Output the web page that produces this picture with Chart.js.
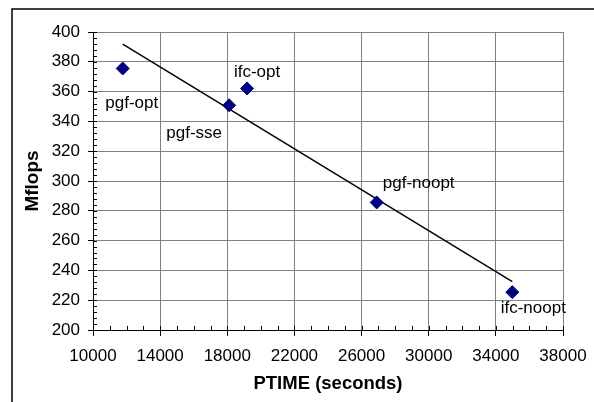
<!DOCTYPE html>
<html>
<head>
<meta charset="utf-8">
<script src="https://cdn.jsdelivr.net/npm/chart.js@4/dist/chart.umd.min.js"></script>
<style>
  html, body { margin: 0; padding: 0; background: #fff; }
  #wrap { width: 594px; height: 402px; }
</style>
</head>
<body>
<div id="wrap"><canvas id="c" width="594" height="402"></canvas></div>
<script>
// values
const names = ['pgf-opt', 'pgf-sse', 'ifc-opt', 'pgf-noopt', 'ifc-noopt'];
const ptime = [11770, 18110, 19180, 26900, 34980];
const mflops = [375.5, 350.8, 362.1, 285.6, 225.4];
// trend line end points
const trendX = [11770, 34980];
const trendY = [391.8, 232.4];
// where each label sits relative to its diamond (px)
const labelOffX = [9, -35, 10, 42, 21];
const labelOffY = [35, 28, -16, -19, 16];

const FONT = '"Liberation Sans", Arial, sans-serif';

const points = ptime.map((x, i) => ({x: x, y: mflops[i]}));
const trend = trendX.map((x, i) => ({x: x, y: trendY[i]}));

// outer frame (only top / left edges show in the picture)
const framePlugin = {
  id: 'frame',
  beforeDraw(chart) {
    const ctx = chart.ctx;
    ctx.save();
    ctx.fillStyle = '#fff';
    ctx.fillRect(0, 0, chart.width, chart.height);
    ctx.strokeStyle = '#000';
    ctx.lineWidth = 1.5;
    ctx.beginPath();
    ctx.moveTo(12, chart.height + 2);
    ctx.lineTo(12, 9);
    ctx.lineTo(chart.width + 2, 9);
    ctx.stroke();
    ctx.restore();
  }
};

// minor ticks inside the plot + the point labels
const extrasPlugin = {
  id: 'extras',
  afterDraw(chart) {
    const ctx = chart.ctx;
    const xs = chart.scales.x, ys = chart.scales.y;
    const area = chart.chartArea;
    ctx.save();
    ctx.strokeStyle = '#000';
    ctx.lineWidth = 1;
    ctx.beginPath();
    for (let v = 10000; v <= 38000; v += 1000) {
      const px = Math.round(xs.getPixelForValue(v)) + 0.5;
      ctx.moveTo(px, area.bottom);
      ctx.lineTo(px, area.bottom - 4);
    }
    for (let v = 200; v <= 400; v += 4) {
      const py = Math.round(ys.getPixelForValue(v)) + 0.5;
      ctx.moveTo(area.left, py);
      ctx.lineTo(area.left + 4, py);
    }
    ctx.stroke();

    const meta = chart.getDatasetMeta(0);
    ctx.fillStyle = '#000';
    ctx.font = '17px ' + FONT;
    ctx.textAlign = 'center';
    ctx.textBaseline = 'middle';
    meta.data.forEach((el, i) => {
      ctx.fillText(names[i], el.x + labelOffX[i], el.y + labelOffY[i]);
    });
    ctx.restore();
  }
};

new Chart(document.getElementById('c'), {
  type: 'scatter',
  data: {
    datasets: [
      {
        label: 'runs',
        data: points,
        pointStyle: 'rectRot',
        pointRadius: 6.5,
        pointHoverRadius: 6.5,
        backgroundColor: '#000080',
        borderColor: '#000080',
        borderWidth: 1
      },
      {
        type: 'line',
        label: 'trend',
        data: trend,
        borderColor: '#000',
        borderWidth: 1.5,
        pointRadius: 0,
        fill: false
      }
    ]
  },
  options: {
    responsive: false,
    animation: false,
    events: [],
    layout: { padding: { top: 32, right: 31, left: 0, bottom: 0 } },
    plugins: {
      legend: { display: false },
      tooltip: { enabled: false }
    },
    scales: {
      x: {
        type: 'linear',
        min: 10000,
        max: 38000,
        afterFit(s) { s.height = 72; s.paddingLeft = 0; s.paddingRight = 0; },
        ticks: {
          stepSize: 4000,
          color: '#000',
          font: { size: 17, family: FONT },
          padding: 10,
          maxRotation: 0,
          callback: v => String(v)
        },
        grid: { color: '#808080', lineWidth: 1, tickLength: 6, tickColor: '#000' },
        border: { color: '#000', width: 1 },
        title: {
          display: true,
          text: 'PTIME (seconds)',
          color: '#000',
          font: { size: 18.5, weight: 'bold', family: FONT },
          padding: { top: 7, bottom: 7 }
        }
      },
      y: {
        type: 'linear',
        min: 200,
        max: 400,
        afterFit(s) { s.width = 93; s.paddingTop = 0; s.paddingBottom = 0; },
        ticks: {
          stepSize: 20,
          color: '#000',
          font: { size: 17, family: FONT },
          padding: 8,
          callback: v => String(v)
        },
        grid: { color: '#808080', lineWidth: 1, tickLength: 5, tickColor: '#000' },
        border: { color: '#000', width: 1 },
        title: {
          display: true,
          text: 'Mflops',
          color: '#000',
          font: { size: 19, weight: 'bold', family: FONT },
          padding: { top: 21, bottom: 21 }
        }
      }
    }
  },
  plugins: [framePlugin, extrasPlugin]
});
</script>
</body>
</html>
